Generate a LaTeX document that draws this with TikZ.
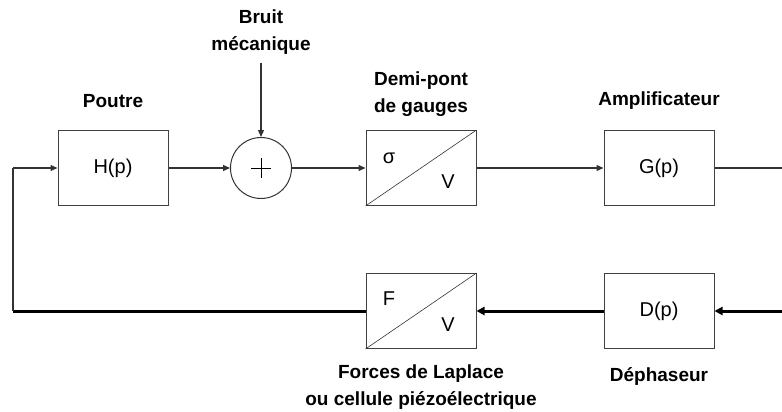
\documentclass[tikz,border=0pt]{standalone}
\usepackage{fontspec}
\setmainfont{Liberation Sans}
\usetikzlibrary{arrows.meta}
\begin{document}
\begin{tikzpicture}[x=1pt,y=-1pt,
  blk/.style={draw=black!75,line width=1pt,minimum width=110pt,minimum height=75pt,inner sep=0pt,font=\fontsize{20}{22}\selectfont},
  lbl/.style={font=\bfseries\fontsize{19}{27}\selectfont,align=center,inner sep=0pt},
  thin/.style={draw=black!80,line width=1.2pt},
  thick/.style={draw=black,line width=3pt},
  arr/.style={-{Triangle[length=7pt,width=6pt]}},
  arrk/.style={-{Triangle[length=8pt,width=8pt]}},
  sym/.style={font=\fontsize{20}{22}\selectfont,inner sep=0pt}]
\useasboundingbox (0,0) rectangle (782,412);
\node[blk] (H) at (113,168) {H(p)};
\node[draw=black!80,line width=1pt,circle,minimum size=61pt,inner sep=0pt] (S) at (261,168) {};
\draw[line width=0.8pt] (251,168) -- (271,168) (261,158) -- (261,178);
\node[blk] (DP) at (421,168) {};
\draw[line width=0.6pt,black!80] (DP.south west) -- (DP.north east);
\node[sym] (sig) at (389,158) {σ};
\node[sym] (v1) at (448,182) {V};
\node[blk] (G) at (659,168) {G(p)};
\node[blk] (D) at (659,311) {D(p)};
\node[blk] (FV) at (421,311) {};
\draw[line width=0.6pt,black!80] (FV.south west) -- (FV.north east);
\node[sym] (F) at (389,299) {F};
\node[sym] (v2) at (448,325) {V};
\node[lbl] (bruit) at (261,32) {Bruit\\mécanique};
\node[lbl] (poutre) at (113,101) {Poutre};
\node[lbl] (demi) at (421,94) {Demi-pont\\de gauges};
\node[lbl] (ampli) at (659,101) {Amplificateur};
\node[lbl] (deph) at (659,377) {Déphaseur};
\node[lbl] (forces) at (421,387) {Forces de Laplace\\ou cellule piézoélectrique};
\coordinate (bn) at (261,63);
\coordinate (rt) at (782,168);
\coordinate (rb) at (782,311);
\coordinate (lc) at (13,168);
\coordinate (lb) at (13,311);
\draw[thin,arr] (bn) -- (S.north);
\draw[thin,arr] (H.east) -- (S.west);
\draw[thin,arr] (S.east) -- (DP.west);
\draw[thin,arr] (DP.east) -- (G.west);
\draw[thin] (G.east) -- (rt);
\draw[thick,arrk] (rb) -- (D.east);
\draw[thick,arrk] (D.west) -- (FV.east);
\draw[thick] (FV.west) -- (lb);
\draw[thin] (lb) -- (lc);
\draw[thin,arr] (lc) -- (H.west);
\end{tikzpicture}
\end{document}
